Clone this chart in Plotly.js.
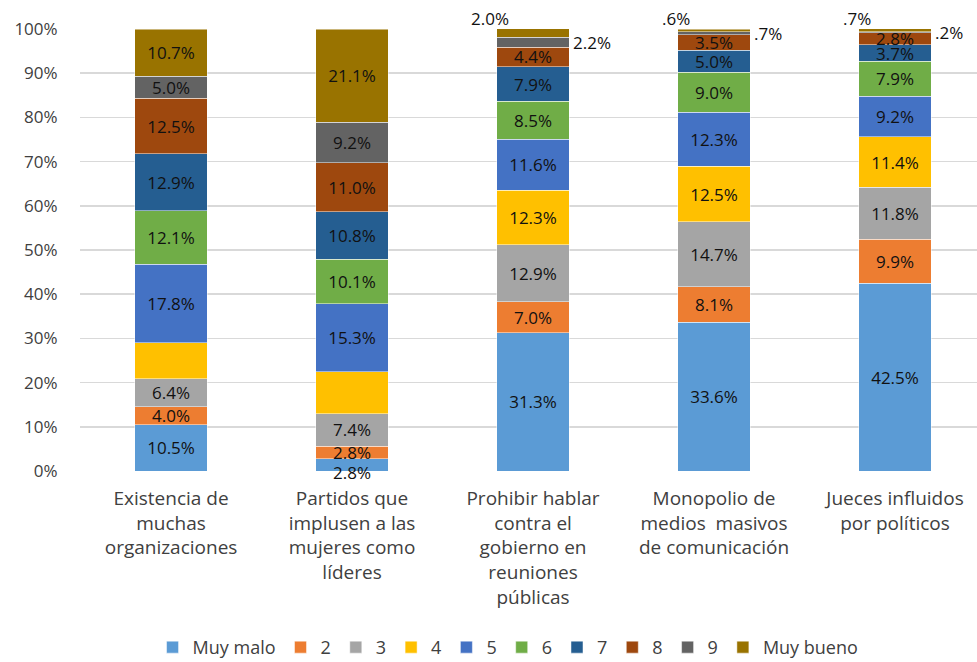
<!DOCTYPE html>
<html>
<head>
<meta charset="utf-8">
<script src="https://cdn.plot.ly/plotly-3.0.1.min.js"></script>
<style>html,body{margin:0;padding:0;background:#fff;}#chart{width:977px;height:662px;}</style>
</head>
<body>
<div id="chart"></div>
<script>
const categories = [
  "Existencia de<br>muchas<br>organizaciones",
  "Partidos que<br>implusen a las<br>mujeres como<br>líderes",
  "Prohibir hablar<br>contra el<br>gobierno en<br>reuniones<br>públicas",
  "Monopolio de<br>medios  masivos<br>de comunicación",
  "Jueces influidos<br>por políticos"
];
const seriesNames = ["Muy malo", "2", "3", "4", "5", "6", "7", "8", "9", "Muy bueno"];
const muyMalo  = [10.5, 2.8, 31.3, 33.6, 42.5];
const s2       = [4.0, 2.8, 7.0, 8.1, 9.9];
const s3       = [6.4, 7.4, 12.9, 14.7, 11.8];
const s4       = [8.1, 9.5, 12.3, 12.5, 11.4];
const s5       = [17.8, 15.3, 11.6, 12.3, 9.2];
const s6       = [12.1, 10.1, 8.5, 9.0, 7.9];
const s7       = [12.9, 10.8, 7.9, 5.0, 3.7];
const s8       = [12.5, 11.0, 4.4, 3.5, 2.8];
const s9       = [5.0, 9.2, 2.2, 0.7, 0.2];
const muyBueno = [10.7, 21.1, 2.0, 0.6, 0.7];
const seriesValues = [muyMalo, s2, s3, s4, s5, s6, s7, s8, s9, muyBueno];
const colors = ["#5B9BD5", "#ED7D31", "#A5A5A5", "#FFC000", "#4472C4", "#70AD47", "#255E91", "#9E480E", "#636363", "#997300"];
// labels not shown inside the bars: [seriesIndex, categoryIndex]
const hiddenInside = [[3,0],[3,1],[0,1],[8,2],[9,2],[8,3],[9,3],[8,4],[9,4]];

const FONT = "'Open Sans', 'Noto Sans', sans-serif";
const LBL = {family: FONT, size: 17, color: "#111"};
const fmt = v => v.toFixed(1).replace(/^0\./, ".") + "%";
const isHidden = (s, c) => hiddenInside.some(h => h[0] === s && h[1] === c);

const traces = seriesValues.map((vals, s) => ({
  type: "bar",
  name: seriesNames[s],
  x: categories,
  y: vals,
  text: vals.map((v, c) => isHidden(s, c) ? "" : fmt(v)),
  textposition: "inside",
  insidetextanchor: "middle",
  textangle: 0,
  constraintext: "none",
  insidetextfont: LBL,
  marker: {color: colors[s], line: {color: "rgba(255,255,255,0.6)", width: 0.8}},
  hoverinfo: "skip"
}));

const annotations = [];
const cum = (c, upto) => seriesValues.slice(0, upto).reduce((a, arr) => a + arr[c], 0);
annotations.push({x: 1, y: muyMalo[1] / 2, xref: "x", yref: "y", text: fmt(muyMalo[1]),
  showarrow: false, yshift: -8, font: LBL});
for (const c of [2, 3, 4]) {
  annotations.push({x: c, y: 100, xref: "x", yref: "y", text: fmt(muyBueno[c]), showarrow: false,
    xanchor: "right", yanchor: "bottom", xshift: -22, yshift: -3, font: LBL});
  annotations.push({x: c + 0.2, y: cum(c, 8) + s9[c] / 2, xref: "x", yref: "y", text: fmt(s9[c]), showarrow: false,
    xanchor: "left", yanchor: "middle", xshift: 2, font: LBL});
}

const layout = {
  width: 977, height: 662,
  margin: {l: 80, r: 0, t: 29, b: 191},
  barmode: "stack",
  bargap: 0.6,
  paper_bgcolor: "#fff", plot_bgcolor: "#fff",
  showlegend: true,
  legend: {orientation: "h", xref: "container", yref: "container", x: 0.52, xanchor: "center",
    y: 0.022, yanchor: "middle", font: {family: FONT, size: 18, color: "#404040"},
    itemwidth: 30, traceorder: "normal"},
  xaxis: {type: "category", range: [-0.503, 4.453], showgrid: false, zeroline: false, showline: false,
    ticks: "outside", ticklen: 10, tickcolor: "rgba(0,0,0,0)",
    tickfont: {family: FONT, size: 19, color: "#404040"}, fixedrange: true},
  yaxis: {range: [0, 100], dtick: 10, ticksuffix: "%", showgrid: true, gridcolor: "#d9d9d9", gridwidth: 1.5,
    zeroline: false, ticks: "outside", ticklen: 18, tickcolor: "rgba(0,0,0,0)",
    tickfont: {family: FONT, size: 17, color: "#404040"}, fixedrange: true},
  annotations: annotations,
  font: {family: FONT}
};

Plotly.newPlot("chart", traces, layout, {displayModeBar: false, staticPlot: true});
</script>
</body>
</html>
